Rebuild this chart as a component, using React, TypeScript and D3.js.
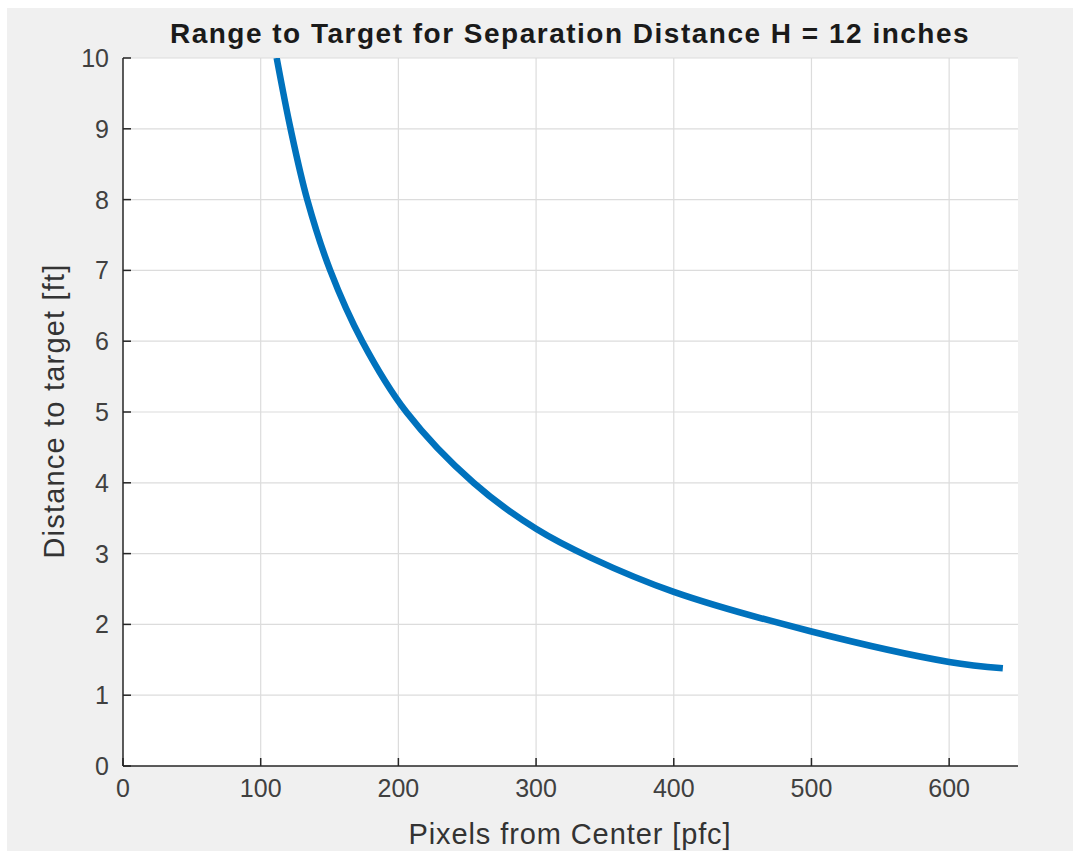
import React from 'react';
import * as d3 from 'd3';

// values
const pfc = [111.6, 121.7, 133.8, 150.5, 173.7, 205.8, 254.6, 300, 340, 400, 500, 600, 639];
const distanceFt = [10, 9, 8, 7, 6, 5, 4, 3.35, 2.94, 2.46, 1.9, 1.47, 1.38];
const xTicks = [0, 100, 200, 300, 400, 500, 600];
const yTicks = [0, 1, 2, 3, 4, 5, 6, 7, 8, 9, 10];

const W = 1073;
const H = 851;
const margin = { left: 123, right: 1018, top: 58, bottom: 766 };
const font = 'Liberation Sans, Arial, Helvetica, sans-serif';

export default function App() {
    const x = d3.scaleLinear().domain([0, 650]).range([margin.left, margin.right]);
    const y = d3.scaleLinear().domain([0, 10]).range([margin.bottom, margin.top]);

    const points: [number, number][] = pfc.map((p, i) => [p, distanceFt[i]]);
    const line = d3.line<[number, number]>()
        .x(d => x(d[0]))
        .y(d => y(d[1]))
        .curve(d3.curveCatmullRom.alpha(0.5));

    return (
        <svg
            width={W}
            height={H}
            style={{ position: 'absolute', left: 0, top: 0, display: 'block' }}
        >
            <rect x={0} y={0} width={W} height={H} fill="#ffffff" />
            <rect x={7} y={8} width={W - 7} height={H - 8} fill="#f0f0f0" />
            <rect
                x={margin.left}
                y={margin.top}
                width={margin.right - margin.left}
                height={margin.bottom - margin.top}
                fill="#ffffff"
            />
            <defs>
                <clipPath id="plotclip">
                    <rect
                        x={margin.left}
                        y={margin.top}
                        width={margin.right - margin.left}
                        height={margin.bottom - margin.top}
                    />
                </clipPath>
            </defs>

            {/* grid */}
            {xTicks.filter(t => t > 0).map(t => (
                <line key={'gx' + t} x1={x(t)} x2={x(t)} y1={margin.top} y2={margin.bottom}
                    stroke="#dcdcdc" strokeWidth={1.2} />
            ))}
            {yTicks.filter(t => t > 0).map(t => (
                <line key={'gy' + t} x1={margin.left} x2={margin.right} y1={y(t)} y2={y(t)}
                    stroke="#dcdcdc" strokeWidth={1.2} />
            ))}

            {/* data line */}
            <path
                d={line(points) || ''}
                fill="none"
                stroke="#0072bd"
                strokeWidth={6.5}
                clipPath="url(#plotclip)"
            />

            {/* axes */}
            <line x1={margin.left} x2={margin.left} y1={margin.top} y2={margin.bottom}
                stroke="#262626" strokeWidth={1.5} />
            <line x1={margin.left} x2={margin.right} y1={margin.bottom} y2={margin.bottom}
                stroke="#262626" strokeWidth={1.5} />

            {xTicks.map(t => (
                <g key={'xt' + t}>
                    <line x1={x(t)} x2={x(t)} y1={margin.bottom} y2={margin.bottom - 8}
                        stroke="#262626" strokeWidth={1.5} />
                    <text x={x(t)} y={797} textAnchor="middle" fontFamily={font}
                        fontSize={25} fill="#404040">{t}</text>
                </g>
            ))}
            {yTicks.map(t => (
                <g key={'yt' + t}>
                    <line x1={margin.left} x2={margin.left + 8} y1={y(t)} y2={y(t)}
                        stroke="#262626" strokeWidth={1.5} />
                    <text x={109} y={y(t)} dy="0.36em" textAnchor="end" fontFamily={font}
                        fontSize={25} fill="#404040">{t}</text>
                </g>
            ))}

            <text x={570} y={43} textAnchor="middle" fontFamily={font} fontSize={28}
                letterSpacing={1.5} fontWeight="bold" fill="#1a1a1a">
                Range to Target for Separation Distance H = 12 inches
            </text>
            <text x={570} y={844} textAnchor="middle" fontFamily={font} fontSize={29}
                letterSpacing={0.9} fill="#333333">
                Pixels from Center [pfc]
            </text>
            <text transform={`translate(64, 411) rotate(-90)`} textAnchor="middle"
                fontFamily={font} fontSize={29} letterSpacing={1.2} fill="#333333">
                Distance to target [ft]
            </text>
        </svg>
    );
}
